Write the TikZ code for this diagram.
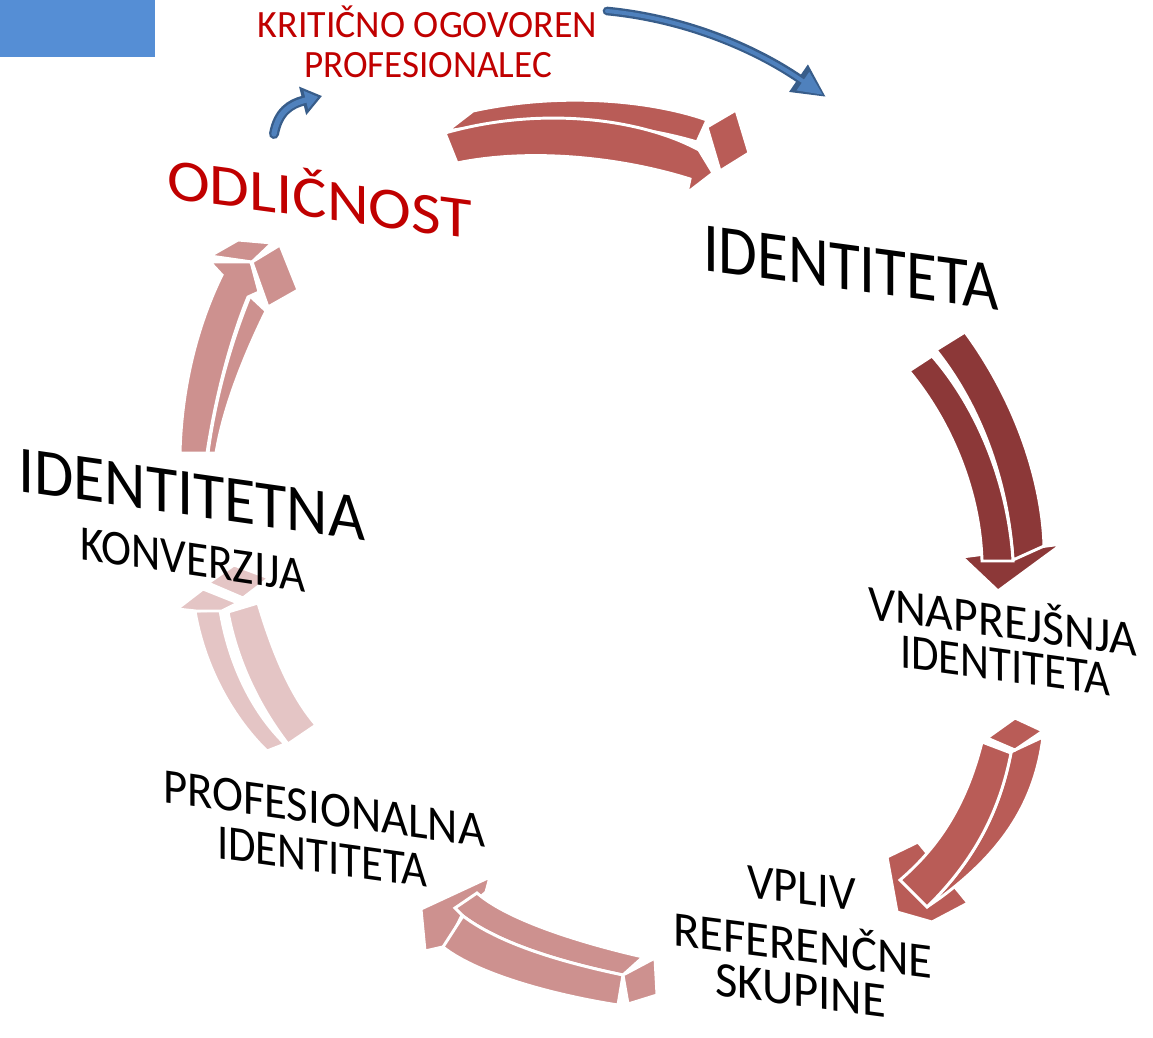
\documentclass[tikz,border=0pt]{standalone}
\usepackage{fontspec}
\setmainfont{Carlito}
\usetikzlibrary{arrows.meta}
\definecolor{cA}{RGB}{185,92,87}
\definecolor{cB}{RGB}{140,56,56}
\definecolor{cC}{RGB}{205,145,143}
\definecolor{cD}{RGB}{228,197,197}
\definecolor{blueF}{RGB}{79,129,189}
\definecolor{blueD}{RGB}{56,93,138}
\definecolor{rectB}{RGB}{85,142,213}
\definecolor{redT}{RGB}{192,0,0}
\begin{document}
\begin{tikzpicture}[x=0.75pt,y=-0.75pt,
  piece/.style={draw=white,line width=2.2pt,line join=miter},
  lbl/.style={transform shape,inner sep=0pt,outer sep=0pt,anchor=base west},
  big/.style={font=\fontsize{52.5}{52.5}\selectfont},
  mid/.style={font=\fontsize{37.3}{37.3}\selectfont},
]
\fill[white] (0,0) rectangle (1153,1038);
\useasboundingbox (0,0) rectangle (1153,1038);
\fill[rectB] (0,0) rectangle (155,57);

% arrow 1 (top)
\fill[cA,piece] (447,131) -- (473,111) .. controls (560,92) and (650,100) .. (707,120) -- (697,142) .. controls (630,122) and (540,116) .. (447,131) -- cycle;
\fill[cA,piece] (445,133) .. controls (540,106) and (640,118) .. (699,150) -- (713,173) -- (687,193) -- (690,179) .. controls (620,157) and (530,148) .. (457,163) -- cycle;
\fill[cA,piece] (707,127) -- (736,110) -- (749,153) -- (720,171) -- cycle;

% arrow 2 (right, dark)
\fill[cB,piece] (962,557) -- (1062,544) -- (998,591) -- cycle;
\fill[cB,piece] (936,350) -- (965,332) .. controls (1015,400) and (1042,480) .. (1044,546) -- (1013,560) .. controls (1008,480) and (980,405) .. (936,350) -- cycle;
\fill[cB,piece] (909,371) -- (932,356) .. controls (975,405) and (1008,480) .. (1013,561) -- (982,561) .. controls (980,490) and (950,420) .. (909,371) -- cycle;

% arrow 3 (right bottom)
\fill[cA,piece] (887,857) -- (918,842) -- (968,903) -- (932,922) -- (897,912) -- cycle;
\fill[cA,piece] (1015,750) -- (1043,737) .. controls (1035,800) and (1005,850) .. (940,898) -- (927,907) .. controls (975,860) and (1000,810) .. (1011,752) -- cycle;
\fill[cA,piece] (982,742) -- (1011,753) .. controls (1000,810) and (975,860) .. (927,907) -- (900,880) .. controls (935,850) and (965,810) .. (982,742) -- cycle;
\fill[cA,piece] (987,738) -- (1015,718) -- (1043,731) -- (1015,750) -- cycle;

% arrow 4 (bottom)
\fill[cC,piece] (421,909) -- (490,877) -- (486,892) -- (463,913) -- (447,946) -- (425,951) -- cycle;
\fill[cC,piece] (643,957) .. controls (590,945) and (510,922) .. (477,893) -- (455,908) -- (463,916) .. controls (505,948) and (580,966) .. (623,975) -- cycle;
\fill[cC,piece] (623,975) .. controls (580,966) and (505,948) .. (463,916) -- (443,947) .. controls (480,976) and (560,996) .. (618,1005) -- cycle;
\fill[cC,piece] (623,975) -- (655,958) -- (657,995) -- (628,1004) -- cycle;

% arrow 5 (left bottom, light)
\fill[cD,piece] (228,612) -- (258,603) .. controls (272,650) and (290,695) .. (316,725) -- (288,744) .. controls (258,705) and (237,660) .. (228,612) -- cycle;
\fill[cD,piece] (195,611) -- (220,610) .. controls (228,660) and (250,710) .. (285,744) -- (267,751) .. controls (235,720) and (205,670) .. (195,611) -- cycle;
\fill[cD,piece] (177,609) -- (203,589) -- (238,603) -- (222,611) -- (196,611) -- cycle;
\fill[cD,piece] (208,583) -- (234,565) -- (269,578) -- (243,598) -- cycle;

% arrow 6 (left top)
\fill[cC,piece] (250,296) -- (266,311) .. controls (242,360) and (223,410) .. (216,453) -- (208,453) .. controls (215,400) and (230,345) .. (250,296) -- cycle;
\fill[cC,piece] (210,262) -- (251,262) -- (259,292) -- (248,297) .. controls (230,340) and (215,400) .. (207,453) -- (180,453) .. controls (182,380) and (200,320) .. (222,275) -- cycle;
\fill[cC,piece] (210,256) -- (238,240) -- (272,243) -- (252,262) -- cycle;
\fill[cC,piece] (252,262) -- (280,245) -- (298,290) -- (268,307) -- cycle;

% texts
\node[lbl,yslant=-0.135,xscale=1.1,text=redT,font=\fontsize{44}{44}\selectfont] (odl) at (167,198) {ODLIČNOST};
\node[lbl,big,yslant=-0.135,xscale=0.9] (ident) at (703,270) {IDENTITETA};
\node[lbl,font=\fontsize{50}{50}\selectfont,yslant=-0.143,xscale=0.96] (identn) at (18,491) {IDENTITETNA};
\node[lbl,mid,yslant=-0.148,xscale=0.91] (konv) at (80,559) {KONVERZIJA};
\node[lbl,mid,yslant=-0.138,xscale=0.96] (vnap) at (868,619) {VNAPREJŠNJA};
\node[lbl,mid,yslant=-0.138,xscale=0.9] (vnapid) at (900,667) {IDENTITETA};
\node[lbl,mid,yslant=-0.13,xscale=0.94] (vpliv) at (747,897) {VPLIV};
\node[lbl,mid,yslant=-0.13,xscale=0.98] (refer) at (673,945) {REFERENČNE};
\node[lbl,mid,yslant=-0.13,xscale=0.98] (skup) at (715,995) {SKUPINE};
\node[lbl,mid,yslant=-0.14,xscale=0.94] (prof) at (163,802) {PROFESIONALNA};
\node[lbl,mid,yslant=-0.14,xscale=0.9] (profid) at (217,858) {IDENTITETA};
\node[transform shape,inner sep=0pt,anchor=base,text=redT,font=\fontsize{29}{29}\selectfont,xscale=0.98] (krit1) at (427.5,38) {KRITIČNO OGOVOREN};
\node[transform shape,inner sep=0pt,anchor=base,text=redT,font=\fontsize{29}{29}\selectfont,xscale=0.96] (krit2) at (428,78) {PROFESIONALEC};

% blue connectors
\coordinate (b1s) at (274,134);
\coordinate (b1e) at (322,96);
\coordinate (b2s) at (607,11);
\coordinate (b2e) at (826,97);
\draw[blueD,line width=7.5pt,line cap=round,-{Triangle[length=15pt,width=21pt]}] (b1s) .. controls (278,112) and (290,104) .. (b1e);
\draw[blueF,line width=4pt,line cap=round,shorten >=3pt,-{Triangle[length=9.5pt,width=13.5pt]}] (b1s) .. controls (278,112) and (290,104) .. (b1e);
\draw[blueD,line width=6.5pt,line cap=round,-{Triangle[length=25pt,width=23pt]}] (b2s) .. controls (680,18) and (750,45) .. (b2e);
\draw[blueF,line width=3pt,line cap=round,shorten >=3pt,-{Triangle[length=18pt,width=16pt]}] (b2s) .. controls (680,18) and (750,45) .. (b2e);
\end{tikzpicture}
\end{document}
